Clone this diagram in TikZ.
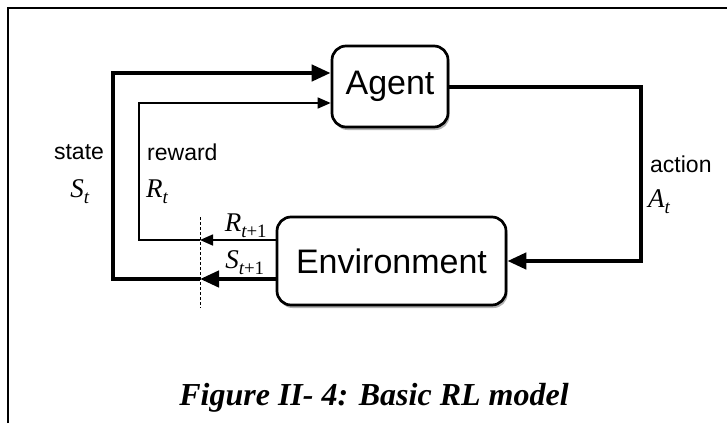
\documentclass[tikz,border=0pt]{standalone}
\usepackage{fontspec}
\setmainfont{Liberation Sans}
\newfontfamily\tnr{Liberation Serif}
\usetikzlibrary{arrows.meta,shadows}

\tikzset{
  box/.style={draw, line width=2.7pt, rounded corners=14pt, fill=white, inner sep=0pt,
    drop shadow={shadow xshift=1.5pt, shadow yshift=-3pt, opacity=.3, fill=black},
    font=\fontsize{34}{37}\selectfont},
  bigline/.style={line width=4.3pt},
  thinline/.style={line width=1.6pt},
  bighead/.style={-{Triangle[length=19pt,width=16pt]}},
  thinhead/.style={-{Triangle[length=13pt,width=11pt]}},
  lbl/.style={font=\fontsize{23}{25}\selectfont, inner sep=0pt},
  sym/.style={font=\tnr\itshape\fontsize{27}{29}\selectfont, inner sep=0pt}
}

\newcommand{\symsub}[2]{#1\textsubscript{\raisebox{-2pt}{#2}}}

\begin{document}
\begin{tikzpicture}[x=1pt,y=-1pt]
\useasboundingbox (0,0) rectangle (727,423);

% page frame
\draw[line width=2pt] (8,423) -- (8,8) -- (727,8);

% the two boxes
\node[box, minimum width=116, minimum height=81] (agent) at (390,86.5) {Agent};
\node[box, minimum width=229, minimum height=88] (env) at (391.5,261) {Environment};

% helper points for the loops
\coordinate (cut) at (200,217);
\coordinate (cutend) at (200,308);
\coordinate (rr) at (0,240);
\coordinate (ss) at (0,279);
\coordinate (sleft) at (113,73);
\coordinate (rleft) at (139,103);
\coordinate (acorner) at (641,87);

% action
\draw[bigline, bighead] (agent.east |- acorner) -- (acorner) |- (env.east);

% next reward / next state into the cut
\draw[thinline, thinhead] (env.west |- rr) -- (cut |- rr);
\draw[bigline, bighead] (env.west |- ss) -- (cut |- ss);
\draw[dashed, line width=.8pt, dash pattern=on 3pt off 2pt] (cut) -- (cutend);

% back to the agent
\draw[thinline, thinhead] (cut |- rr) -| (rleft) -- (agent.west |- rleft);
\draw[bigline, bighead] (cut |- ss) -| (sleft) -- (agent.west |- sleft);

% labels
\node[lbl] (state) at (79,152) {state};
\node[sym] (st) at (80,192) {\symsub{S}{t}};
\node[lbl, anchor=west] (reward) at (147,152) {reward};
\node[sym, anchor=west] (rt) at (146,192) {\symsub{R}{t}};
\node[lbl, anchor=west] (action) at (650,164) {action};
\node[sym, anchor=west] (at) at (648,202) {\symsub{A}{t}};
\node[sym] (rnext) at (246,226) {\symsub{R}{t\upshape+1}};
\node[sym] (snext) at (245,263) {\symsub{S}{t\upshape+1}};

% caption
\node[font=\tnr\bfseries\itshape\fontsize{32}{35}\selectfont] (caption) at (374,398)
  {Figure II- 4: Basic RL model};
\end{tikzpicture}
\end{document}
